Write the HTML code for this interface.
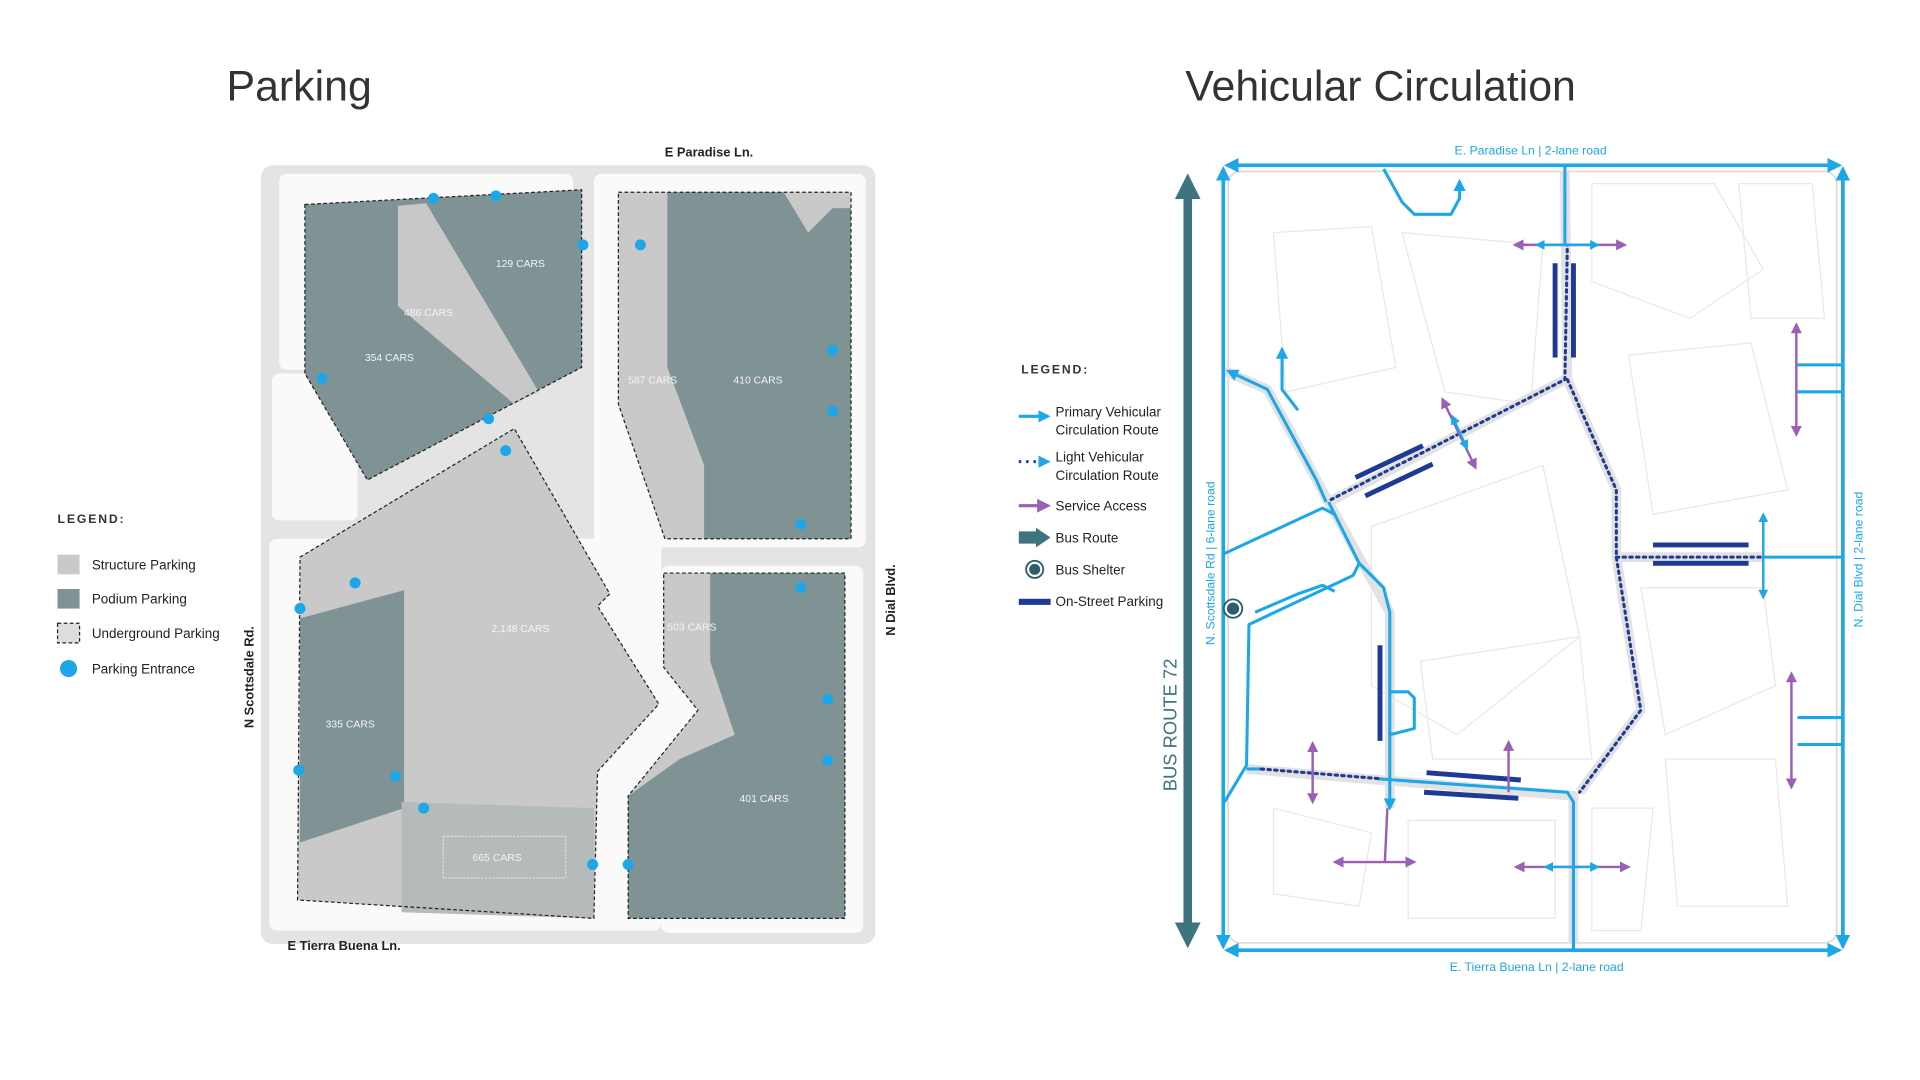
<!DOCTYPE html>
<html><head><meta charset="utf-8"><style>
html,body{margin:0;padding:0;background:#fff;}
svg{display:block;}
text{font-family:"Liberation Sans",sans-serif;}
</style></head><body>
<svg width="1920" height="1080" viewBox="0 0 1568 882" xmlns="http://www.w3.org/2000/svg">
<defs>
<marker id="ab" viewBox="0 0 10 10" refX="8" refY="5" markerWidth="4" markerHeight="4" orient="auto-start-reverse"><path d="M0,0L10,5L0,10z" fill="#1ea7e8"/></marker>
<marker id="ap" viewBox="0 0 10 10" refX="8" refY="5" markerWidth="4.5" markerHeight="4.5" orient="auto-start-reverse"><path d="M0,0L10,5L0,10z" fill="#9b5fb5"/></marker>
<marker id="at" viewBox="0 0 10 10" refX="6" refY="5" markerWidth="3" markerHeight="3" orient="auto-start-reverse"><path d="M0,0L10,5L0,10z" fill="#3d7480"/></marker>
</defs>
<rect width="1568" height="882" fill="#fff"/>
<text x="185" y="82" font-size="35" fill="#333">Parking</text>
<text x="968" y="82" font-size="35" fill="#333">Vehicular Circulation</text>

<!-- LEFT MAP -->
<rect x="213" y="135" width="502" height="636" rx="10" fill="#e4e4e4"/>
<g fill="#fafafa">
<rect x="228" y="142" width="240" height="160" rx="6"/>
<rect x="485" y="142" width="222" height="305" rx="6"/>
<rect x="222" y="305" width="70" height="120" rx="6"/>
<rect x="540" y="462" width="165" height="300" rx="6"/>
<rect x="220" y="440" width="320" height="320" rx="6"/>
</g>
<path d="M249,167L475,155L475,300L300,392L249,305z" fill="#7f9394"/>
<path d="M325,168L348,166L440,320L420,330L325,250z" fill="#c8c8c8"/>
<path d="M249,167L475,155L475,300L300,392L249,305z" fill="none" stroke="#222" stroke-dasharray="3,2"/>
<path d="M505,157L695,157L695,440L543,440L505,330z" fill="#c9c9c9"/>
<path d="M545,157L640,157L660,190L680,170L695,170L695,440L575,440L575,380L545,300z" fill="#7f9394"/>
<path d="M505,157L695,157L695,440L543,440L505,330z" fill="none" stroke="#222" stroke-dasharray="3,2"/>
<path d="M245,455L420,350L498,485L488,495L538,575L488,630L485,750L243,735z" fill="#c9c9c9"/>
<path d="M245,505L330,482L330,660L245,688z" fill="#7f9394"/>
<path d="M328,655L485,660L485,750L328,745z" fill="#b5babb"/>
<rect x="362" y="683" width="100" height="34" fill="none" stroke="#ddd" stroke-dasharray="2,1"/>
<path d="M245,455L420,350L498,485L488,495L538,575L488,630L485,750L243,735z" fill="none" stroke="#222" stroke-dasharray="3,2"/>
<path d="M542,468L690,468L690,750L513,750L513,650L570,580L542,545z" fill="#c9c9c9"/>
<path d="M580,468L690,468L690,750L513,750L513,650L555,620L600,600L580,540z" fill="#7f9394"/>
<path d="M542,468L690,468L690,750L513,750L513,650L570,580L542,545z" fill="none" stroke="#222" stroke-dasharray="3,2"/>
<g fill="#1ea7e8">
<circle cx="354" cy="162" r="4.5"/><circle cx="405" cy="160" r="4.5"/><circle cx="476" cy="200" r="4.5"/><circle cx="523" cy="200" r="4.5"/>
<circle cx="263" cy="309" r="4.5"/><circle cx="399" cy="342" r="4.5"/><circle cx="413" cy="368" r="4.5"/><circle cx="680" cy="286" r="4.5"/>
<circle cx="680" cy="336" r="4.5"/><circle cx="654" cy="428" r="4.5"/><circle cx="654" cy="480" r="4.5"/><circle cx="290" cy="476" r="4.5"/>
<circle cx="245" cy="497" r="4.5"/><circle cx="244" cy="629" r="4.5"/><circle cx="323" cy="634" r="4.5"/><circle cx="346" cy="660" r="4.5"/>
<circle cx="484" cy="706" r="4.5"/><circle cx="513" cy="706" r="4.5"/><circle cx="676" cy="571" r="4.5"/><circle cx="676" cy="621" r="4.5"/>
</g>
<g font-size="8.5" fill="#f4f4f4" text-anchor="middle">
<text x="425" y="218">129 CARS</text><text x="350" y="258">486 CARS</text><text x="318" y="295">354 CARS</text>
<text x="533" y="313">587 CARS</text><text x="619" y="313">410 CARS</text><text x="425" y="516">2,148 CARS</text>
<text x="565" y="515">503 CARS</text><text x="286" y="594">335 CARS</text><text x="624" y="655">401 CARS</text><text x="406" y="703">665 CARS</text>
</g>
<g font-size="10.5" font-weight="bold" fill="#222">
<text x="579" y="128" text-anchor="middle">E Paradise Ln.</text>
<text x="281" y="776" text-anchor="middle">E Tierra Buena Ln.</text>
<text transform="translate(207,553) rotate(-90)" text-anchor="middle">N Scottsdale Rd.</text>
<text transform="translate(731,490) rotate(-90)" text-anchor="middle">N Dial Blvd.</text>
</g>
<!-- left legend -->
<text x="47" y="427" font-size="10" font-weight="bold" letter-spacing="1.5" fill="#333">LEGEND:</text>
<rect x="47" y="453" width="18" height="16" fill="#c9c9c9"/>
<rect x="47" y="481" width="18" height="16" fill="#7f9394"/>
<rect x="47" y="509" width="18" height="16" fill="#ddd" stroke="#222" stroke-dasharray="3,2"/>
<circle cx="56" cy="546" r="7" fill="#1ea7e8"/>
<g font-size="11" fill="#222">
<text x="75" y="465">Structure Parking</text><text x="75" y="493">Podium Parking</text><text x="75" y="521">Underground Parking</text><text x="75" y="550">Parking Entrance</text>
</g>

<!-- RIGHT legend -->
<text x="834" y="305" font-size="10" font-weight="bold" letter-spacing="1.5" fill="#333">LEGEND:</text>
<line x1="832" y1="340" x2="856" y2="340" stroke="#1ea7e8" stroke-width="2.5" marker-end="url(#ab)"/>
<line x1="832" y1="377" x2="856" y2="377" stroke="#1f3a93" stroke-width="2.5" stroke-dasharray="2,4" marker-end="url(#ab)"/>
<line x1="832" y1="413" x2="856" y2="413" stroke="#9b5fb5" stroke-width="2.5" marker-end="url(#ap)"/>
<path d="M832,434L846,434L846,431L858,439L846,447L846,444L832,444z" fill="#3d7480"/>
<circle cx="845" cy="465" r="7" fill="#fff" stroke="#2e5f68" stroke-width="1.5"/><circle cx="845" cy="465" r="4.5" fill="#2e5f68"/>
<rect x="832" y="489" width="26" height="5" fill="#1f3a93"/>
<g font-size="11" fill="#222">
<text x="862" y="340">Primary Vehicular</text><text x="862" y="355">Circulation Route</text>
<text x="862" y="377">Light Vehicular</text><text x="862" y="392">Circulation Route</text>
<text x="862" y="417">Service Access</text><text x="862" y="443">Bus Route</text><text x="862" y="469">Bus Shelter</text><text x="862" y="495">On-Street Parking</text>
</g>

<!-- RIGHT MAP -->
<rect x="1003" y="140" width="497" height="630" rx="10" fill="#fff" stroke="#ddd" stroke-width="1.5"/>
<g fill="none" stroke="#e8e8e8" stroke-width="1">
<path d="M1040,190L1120,185L1140,300L1050,320z"/><path d="M1145,190L1260,200L1250,330L1180,320z"/>
<path d="M1300,150L1400,150L1440,220L1380,260L1300,230z"/><path d="M1330,290L1430,280L1460,400L1350,420z"/>
<path d="M1120,430L1260,380L1290,520L1190,600L1120,560z"/><path d="M1160,540L1290,520L1300,620L1170,620z"/>
<path d="M1340,480L1440,480L1450,560L1360,600z"/><path d="M1360,620L1450,620L1460,740L1370,740z"/>
<path d="M1040,660L1120,680L1110,740L1040,730z"/><path d="M1150,670L1270,670L1270,750L1150,750z"/>
<path d="M1300,660L1350,660L1340,760L1300,760z"/><path d="M1420,150L1480,150L1490,260L1430,260z"/>
</g>
<g fill="none" stroke="#e2e2e2" stroke-width="8" stroke-linejoin="round">
<path d="M1278,140L1280,310L1320,400L1320,455L1340,580L1290,647"/><path d="M1085,410L1278,310"/>
<path d="M1320,455L1440,455"/><path d="M1018,628L1285,650L1285,770"/>
<path d="M1000,303L1035,318L1085,410L1135,500L1135,660"/>
</g>
<!-- bus route -->
<line x1="970" y1="150" x2="970" y2="766" stroke="#3d7480" stroke-width="7" marker-start="url(#at)" marker-end="url(#at)"/>
<text transform="translate(961,592) rotate(-90)" font-size="15" fill="#3d7480" text-anchor="middle">BUS ROUTE 72</text>
<!-- frame -->
<g stroke="#1ea7e8" stroke-width="3" fill="none" marker-start="url(#ab)" marker-end="url(#ab)">
<line x1="1002" y1="135" x2="1502" y2="135"/><line x1="1002" y1="776" x2="1502" y2="776"/>
<line x1="999" y1="138" x2="999" y2="773"/><line x1="1505" y1="138" x2="1505" y2="773"/>
</g>
<g stroke="#1ea7e8" stroke-width="2.5" fill="none" stroke-linejoin="round">
<path d="M1278,135L1278,200"/>
<path d="M1130,138L1145,165L1155,175L1185,175L1192,162L1192,148" marker-end="url(#ab)"/>
<path d="M1083,410L1075,392L1035,318L1003,303" marker-end="url(#ab)"/>
<path d="M1060,335L1047,318L1047,285" marker-end="url(#ab)"/>
<path d="M1000,452L1080,415L1090,420"/>
<path d="M1085,410L1110,460L1105,470L1020,510L1018,625L1000,655"/>
<path d="M1110,460L1130,480L1135,500L1135,660" marker-end="url(#ab)"/>
<path d="M1025,500L1060,485L1080,478L1090,483"/>
<path d="M1135,565L1150,565L1155,570L1155,595L1135,600"/>
<path d="M1018,628L1030,628"/>
<path d="M1125,636L1280,647L1285,655L1285,776"/>
<path d="M1440,455L1505,455"/>
<path d="M1505,298L1468,298"/><path d="M1505,320L1468,320"/>
<path d="M1505,586L1468,586"/><path d="M1505,608L1468,608"/>
</g>
<g stroke="#1f3a93" stroke-width="2.5" fill="none" stroke-dasharray="2,3.5" stroke-linecap="round">
<path d="M1087,408L1278,310L1280,200"/>
<path d="M1280,310L1320,400L1320,455L1340,580L1290,647"/>
<path d="M1320,455L1440,455"/>
<path d="M1030,628L1128,636"/>
</g>
<g stroke="#1f3a93" stroke-width="4">
<line x1="1270" y1="215" x2="1270" y2="292"/><line x1="1285" y1="215" x2="1285" y2="292"/>
<line x1="1107" y1="390" x2="1162" y2="364"/><line x1="1115" y1="405" x2="1170" y2="379"/>
<line x1="1350" y1="445" x2="1428" y2="445"/><line x1="1350" y1="460" x2="1428" y2="460"/>
<line x1="1127" y1="527" x2="1127" y2="605"/>
<line x1="1165" y1="631" x2="1242" y2="637"/><line x1="1163" y1="647" x2="1240" y2="652"/>
</g>
<g stroke="#9b5fb5" stroke-width="2" fill="none" marker-start="url(#ap)" marker-end="url(#ap)">
<line x1="1237" y1="200" x2="1327" y2="200"/>
<line x1="1178" y1="326" x2="1205" y2="382"/>
<line x1="1467" y1="265" x2="1467" y2="355"/>
<line x1="1072" y1="607" x2="1072" y2="655"/>
<line x1="1090" y1="704" x2="1155" y2="704"/>
<line x1="1238" y1="708" x2="1330" y2="708"/>
<line x1="1463" y1="550" x2="1463" y2="643"/>
</g>
<g stroke="#9b5fb5" stroke-width="2" fill="none">
<path d="M1232,647L1232,606" marker-end="url(#ap)"/>
<path d="M1133,660L1131,704"/>
</g>
<g stroke="#1ea7e8" stroke-width="2" fill="none" marker-start="url(#ab)" marker-end="url(#ab)">
<line x1="1255" y1="200" x2="1305" y2="200"/>
<line x1="1186" y1="340" x2="1198" y2="366"/>
<line x1="1440" y1="420" x2="1440" y2="488"/>
<line x1="1262" y1="708" x2="1305" y2="708"/>
</g>
<circle cx="1007" cy="497" r="7.5" fill="#fff" stroke="#2e5f68" stroke-width="1.5"/><circle cx="1007" cy="497" r="5" fill="#2e5f68"/>
<g font-size="10" fill="#1ea7e8" text-anchor="middle">
<text x="1250" y="126">E. Paradise Ln | 2-lane road</text>
<text x="1255" y="793">E. Tierra Buena Ln | 2-lane road</text>
<text transform="translate(992,460) rotate(-90)">N. Scottsdale Rd | 6-lane road</text>
<text transform="translate(1521,457) rotate(-90)">N. Dial Blvd | 2-lane road</text>
</g>
</svg>
</body></html>
